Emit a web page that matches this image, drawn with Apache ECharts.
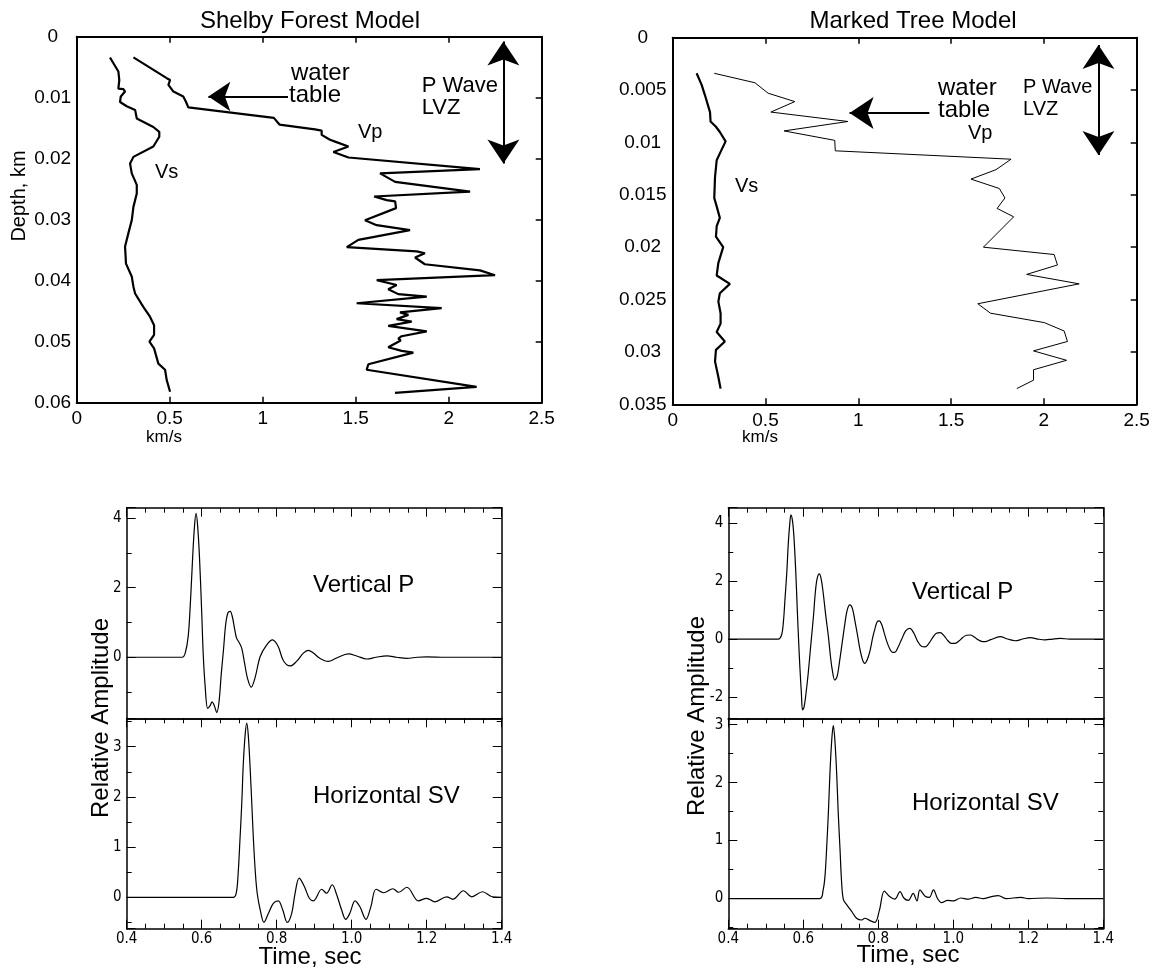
<!DOCTYPE html>
<html><head><meta charset="utf-8">
<script src="https://cdn.jsdelivr.net/npm/echarts@6/dist/echarts.min.js"></script>
<style>html,body{margin:0;padding:0;background:#fff}#c{width:1160px;height:973px}</style>
</head><body><div id="c"></div>
<script>
// ---------- DATA ----------
// Shelby Forest model (depth km, velocity km/s)
const shelbyVsDepth = [0.0034,0.0057,0.0071,0.0085,0.0086,0.0090,0.0098,0.0107,0.0114,0.0120,0.0134,0.0137,0.0148,0.0156,0.0164,0.0180,0.0197,0.0208,0.0224,0.0243,0.0257,0.0279,0.0301,0.0322,0.0344,0.0372,0.0393,0.0410,0.0421,0.0443,0.0459,0.0473,0.0489,0.0500,0.0511,0.0536,0.0546,0.0563,0.0582];
const shelbyVs      = [0.179,0.224,0.229,0.224,0.251,0.260,0.237,0.233,0.269,0.314,0.323,0.341,0.412,0.444,0.444,0.412,0.305,0.287,0.296,0.323,0.323,0.305,0.296,0.278,0.260,0.265,0.296,0.305,0.314,0.358,0.394,0.416,0.416,0.391,0.416,0.439,0.475,0.484,0.502];
const shelbyVpDepth = [0.0034,0.0068,0.0071,0.0079,0.0090,0.0098,0.0107,0.0116,0.0133,0.0144,0.0152,0.0154,0.0161,0.0169,0.0172,0.0180,0.0189,0.0198,0.0217,0.0224,0.0238,0.0254,0.0262,0.0268,0.0270,0.0281,0.0301,0.0309,0.0317,0.0333,0.0345,0.0352,0.0355,0.0362,0.0373,0.0383,0.0391,0.0399,0.0407,0.0414,0.0422,0.0426,0.0437,0.0445,0.0452,0.0456,0.0463,0.0467,0.0474,0.0483,0.0491,0.0495,0.0498,0.0509,0.0515,0.0518,0.0537,0.0546,0.0574,0.0584];
const shelbyVp      = [0.305,0.484,0.502,0.493,0.520,0.573,0.588,0.600,1.060,1.090,1.281,1.317,1.317,1.362,1.389,1.461,1.380,1.461,2.168,1.631,1.712,2.115,1.599,1.667,1.712,1.717,1.550,1.613,1.792,1.514,1.452,1.828,1.872,1.819,1.872,2.168,2.249,1.613,1.720,1.675,1.729,1.882,1.505,1.962,1.738,1.783,1.720,1.801,1.675,1.882,1.747,1.729,1.742,1.675,1.747,1.810,1.568,1.559,2.150,1.711];

// Marked Tree model
const markedVsDepth = [0.0034,0.0045,0.0055,0.0071,0.0080,0.0085,0.0090,0.0099,0.0109,0.0117,0.0133,0.0153,0.0161,0.0172,0.0180,0.0190,0.0200,0.0215,0.0227,0.0235,0.0244,0.0252,0.0263,0.0273,0.0281,0.0290,0.0298,0.0309,0.0324,0.0335];
const markedVs      = [0.129,0.156,0.174,0.201,0.204,0.233,0.254,0.285,0.258,0.237,0.228,0.224,0.237,0.254,0.237,0.233,0.272,0.246,0.237,0.308,0.254,0.246,0.258,0.258,0.237,0.281,0.233,0.228,0.246,0.258];
const markedVpDepth = [0.0034,0.0043,0.0053,0.0061,0.0071,0.0080,0.0089,0.0098,0.0108,0.0116,0.0126,0.0135,0.0144,0.0153,0.0163,0.0171,0.0200,0.0207,0.0217,0.0226,0.0235,0.0254,0.0263,0.0272,0.0280,0.0290,0.0299,0.0308,0.0317,0.0327,0.0335];
const markedVp      = [0.224,0.443,0.514,0.658,0.529,0.944,0.600,0.873,0.876,1.823,1.742,1.607,1.760,1.790,1.748,1.837,1.674,2.055,2.073,1.907,2.190,1.644,1.712,2.002,2.109,2.127,1.944,2.122,1.944,1.944,1.854];

// Synthetic seismograms (time s, relative amplitude)
const shelbyPTime = [0.40,0.50,0.548,0.556,0.564,0.570,0.576,0.581,0.585,0.589,0.594,0.600,0.604,0.609,0.616,0.622,0.628,0.634,0.640,0.646,0.652,0.658,0.664,0.670,0.676,0.682,0.688,0.693,0.700,0.707,0.714,0.722,0.732,0.742,0.756,0.773,0.789,0.804,0.818,0.836,0.853,0.871,0.884,0.898,0.915,0.937,0.960,0.991,1.015,1.040,1.065,1.094,1.120,1.147,1.175,1.200,1.250,1.300,1.400];
const shelbyPAmp  = [0,0,0,0.12,0.6,1.6,2.9,3.8,4.14,3.8,2.9,1.3,0.1,-0.8,-1.47,-1.4,-1.28,-1.4,-1.59,-1.3,-0.5,0.2,0.95,1.28,1.32,1.15,0.8,0.55,0.42,0.25,-0.15,-0.6,-0.86,-0.6,0.02,0.35,0.50,0.31,-0.1,-0.25,-0.12,0.12,0.2,0.12,-0.03,-0.12,-0.02,0.10,0.03,-0.05,0.0,0.04,0.0,-0.03,0.0,0.01,0,0,0];
const shelbySVTime = [0.40,0.684,0.692,0.697,0.702,0.707,0.711,0.716,0.720,0.724,0.729,0.734,0.738,0.743,0.748,0.756,0.766,0.778,0.791,0.804,0.816,0.828,0.840,0.849,0.860,0.874,0.887,0.898,0.920,0.933,0.948,0.960,0.973,0.984,0.995,1.009,1.022,1.038,1.051,1.065,1.085,1.110,1.125,1.147,1.178,1.200,1.222,1.253,1.270,1.298,1.320,1.349,1.375,1.400];
const shelbySVAmp  = [0,0,0.08,0.45,1.14,1.9,2.67,3.25,3.47,3.25,2.6,1.8,1.14,0.5,0.08,-0.25,-0.5,-0.32,-0.12,-0.07,-0.25,-0.5,-0.32,0.08,0.38,0.21,-0.02,-0.07,0.16,0.08,0.25,0.05,-0.25,-0.44,-0.32,-0.07,-0.19,-0.44,-0.19,0.16,0.09,0.17,0.10,0.20,-0.07,-0.02,-0.09,0.01,-0.04,0.13,0.01,0.11,0.01,0];
const markedPTime = [0.40,0.533,0.542,0.547,0.551,0.556,0.560,0.564,0.567,0.571,0.575,0.580,0.584,0.588,0.591,0.595,0.598,0.602,0.607,0.613,0.620,0.627,0.632,0.637,0.643,0.648,0.653,0.660,0.667,0.672,0.677,0.684,0.690,0.696,0.704,0.711,0.717,0.724,0.731,0.738,0.745,0.751,0.758,0.764,0.771,0.778,0.785,0.791,0.797,0.803,0.809,0.815,0.823,0.831,0.838,0.844,0.852,0.862,0.873,0.884,0.895,0.905,0.915,0.925,0.935,0.945,0.955,0.965,0.975,0.985,0.995,1.005,1.015,1.025,1.035,1.045,1.055,1.065,1.075,1.085,1.100,1.125,1.145,1.165,1.185,1.205,1.225,1.245,1.265,1.285,1.310,1.400];
const markedPAmp  = [0,0,0.14,0.6,1.35,2.3,3.31,4.0,4.29,4.1,3.54,2.3,1.0,-0.2,-1.0,-1.9,-2.45,-2.35,-1.9,-1.2,-0.2,0.77,1.6,2.1,2.25,2.05,1.6,0.8,0.08,-0.55,-1.05,-1.42,-1.3,-0.84,-0.1,0.54,1.0,1.18,1.05,0.6,0.1,-0.35,-0.72,-0.84,-0.7,-0.4,0.05,0.35,0.6,0.63,0.5,0.25,-0.1,-0.35,-0.46,-0.46,-0.3,-0.02,0.28,0.37,0.2,-0.08,-0.25,-0.27,-0.15,0.05,0.2,0.22,0.12,-0.05,-0.15,-0.15,-0.07,0.05,0.13,0.14,0.08,-0.02,-0.08,-0.09,-0.02,0.08,0.0,-0.06,0.0,0.05,0.0,-0.03,0,0.02,0,0];
const markedSVTime = [0.40,0.644,0.653,0.658,0.662,0.667,0.671,0.676,0.680,0.684,0.689,0.693,0.698,0.702,0.707,0.716,0.729,0.742,0.756,0.764,0.778,0.791,0.803,0.816,0.831,0.844,0.858,0.868,0.880,0.893,0.903,0.911,0.925,0.936,0.947,0.958,0.969,0.985,1.000,1.020,1.040,1.060,1.080,1.100,1.120,1.140,1.180,1.200,1.250,1.300,1.400];
const markedSVAmp  = [0,0,0.15,0.4,0.84,1.5,2.16,2.75,2.99,2.75,2.16,1.5,0.84,0.3,-0.02,-0.11,-0.22,-0.34,-0.37,-0.34,-0.38,-0.41,-0.2,0.13,0.03,-0.01,0.12,0.01,-0.03,0.09,-0.04,0.15,0.04,0.02,0.15,0.0,-0.07,-0.03,-0.04,0.01,-0.01,0.02,0.0,0.03,0.05,0.0,0.02,0.0,0.01,0.0,0];

// Annotation anchors (data coordinates)
const shelbyWaterTable = {depth:0.0098, from:1.136, to:0.708};
const shelbyLVZ = {vel:2.294, top:0.0008, bottom:0.0208};
const markedWaterTable = {depth:0.0072, from:1.383, to:0.953};
const markedLVZ = {vel:2.294, top:0.0007, bottom:0.0112};

// Axis extents
const shelbyDepthMax = 0.06, markedDepthMax = 0.035;
const ampRanges = {shelbyP:[-1.755,4.3], shelbySV:[-0.626,3.566], markedP:[-2.74,4.54], markedSV:[-0.52,3.11]};

// ---------- CHART ----------
const FONT = '"Liberation Sans", Arial, Helvetica, sans-serif';
const NARROW = '"Liberation Sans Narrow", "DejaVu Sans Condensed", "Liberation Sans", sans-serif';
const K = '#000';
const zip = (a, b) => a.map((v, i) => [v, b[i]]).filter(p => p[1] !== undefined);

const grids = [
  {left:76.7, top:36.7, width:465, height:366},
  {left:672.7, top:37.7, width:464, height:366.6},
  {left:126.7, top:507.7, width:375, height:210.6},
  {left:126.7, top:718.3, width:375, height:210.4},
  {left:728.3, top:507.7, width:375, height:210.6},
  {left:728.3, top:718.3, width:375, height:210.4}
];

function velAxis(g, pos, labels) {
  return {type:'value', gridIndex:g, position:pos, min:0, max:2.5, interval:0.5,
    axisLine:{show:true, onZero:false, lineStyle:{color:K, width:2}},
    axisTick:{show:true, inside:true, length:6, lineStyle:{color:K, width:1.5}},
    axisLabel:{show:labels, color:K, fontSize:19, fontFamily:FONT, margin:7},
    splitLine:{show:false}};
}
function depthAxis(g, pos, max, interval, labels, margin, ticks) {
  return {type:'value', gridIndex:g, position:pos, inverse:true, min:0, max:max, interval:interval,
    axisLine:{show:true, onZero:false, lineStyle:{color:K, width:2}},
    axisTick:{show:ticks, inside:true, length:6, lineStyle:{color:K, width:1.5}},
    axisLabel:{show:labels, color:K, fontSize:19, fontFamily:FONT, align:'center', margin:margin},
    splitLine:{show:false}};
}
function timeAxis(g, pos, labels, ticks) {
  return {type:'value', gridIndex:g, position:pos, min:0.4, max:1.4, interval:0.2,
    axisLine:{show:true, onZero:false, lineStyle:{color:K, width:1.5}},
    axisTick:{show:ticks, inside:true, length:9, lineStyle:{color:K, width:1}},
    minorTick:{show:ticks, splitNumber:4, length:5, lineStyle:{color:K, width:1}},
    axisLabel:{show:labels, color:K, fontSize:15, fontFamily:NARROW, margin:3, formatter:v => v.toFixed(1)},
    splitLine:{show:false}, minorSplitLine:{show:false}};
}
function ampAxis(g, pos, range, split, labels) {
  return {type:'value', gridIndex:g, position:pos, min:range[0], max:range[1], splitNumber:split,
    axisLine:{show:true, onZero:false, lineStyle:{color:K, width:1.5}},
    axisTick:{show:true, inside:true, length:9, lineStyle:{color:K, width:1}},
    minorTick:{show:true, splitNumber:2, length:5, lineStyle:{color:K, width:1}},
    axisLabel:{show:labels, color:K, fontSize:15, fontFamily:NARROW, margin:5, showMinLabel:false, showMaxLabel:false,
      formatter:v => String(Math.round(v))},
    splitLine:{show:false}, minorSplitLine:{show:false}};
}

const xAxis = [
  velAxis(0,'bottom',true), velAxis(0,'top',false),
  velAxis(1,'bottom',true), velAxis(1,'top',false),
  timeAxis(2,'bottom',false,false), timeAxis(2,'top',false,true),
  timeAxis(3,'bottom',true,true), timeAxis(3,'top',false,true),
  timeAxis(4,'bottom',false,false), timeAxis(4,'top',false,true),
  timeAxis(5,'bottom',true,true), timeAxis(5,'top',false,true)
];
const yAxis = [
  depthAxis(0,'left',shelbyDepthMax,0.01,true,24,false), depthAxis(0,'right',shelbyDepthMax,0.01,false,0,true),
  depthAxis(1,'left',markedDepthMax,0.005,true,30,false), depthAxis(1,'right',markedDepthMax,0.005,false,0,true),
  ampAxis(2,'left',ampRanges.shelbyP,3,true), ampAxis(2,'right',ampRanges.shelbyP,3,false),
  ampAxis(3,'left',ampRanges.shelbySV,4,true), ampAxis(3,'right',ampRanges.shelbySV,4,false),
  ampAxis(4,'left',ampRanges.markedP,4,true), ampAxis(4,'right',ampRanges.markedP,4,false),
  ampAxis(5,'left',ampRanges.markedSV,4,true), ampAxis(5,'right',ampRanges.markedSV,4,false)
];

function profile(g, vel, depth, width, mark) {
  const s = {type:'line', xAxisIndex:2*g, yAxisIndex:2*g, data:zip(vel, depth), symbol:'none', showSymbol:false,
    smooth:false, lineStyle:{color:K, width:width}, silent:true, animation:false, z:3};
  if (mark) s.markLine = mark;
  return s;
}
function trace(g, time, amp) {
  return {type:'line', xAxisIndex:2*g, yAxisIndex:2*g, data:zip(time, amp), symbol:'none', showSymbol:false,
    smooth:0.35, lineStyle:{color:K, width:1.2}, silent:true, animation:false, z:3};
}
function arrows(wt, lvz, wtSize, lvzSize) {
  return {silent:true, animation:false, label:{show:false}, emphasis:{disabled:true},
    lineStyle:{color:K, width:2, type:'solid'}, symbol:['none','arrow'],
    data:[
      [{coord:[wt.from, wt.depth], symbol:'none', symbolSize:1}, {coord:[wt.to, wt.depth], symbol:'arrow', symbolSize:wtSize}],
      [{coord:[lvz.vel, lvz.top], symbol:'arrow', symbolSize:lvzSize}, {coord:[lvz.vel, lvz.bottom], symbol:'arrow', symbolSize:lvzSize}]
    ]};
}

const series = [
  profile(0, shelbyVs, shelbyVsDepth, 2.2),
  profile(0, shelbyVp, shelbyVpDepth, 2.2, arrows(shelbyWaterTable, shelbyLVZ, 22, 24)),
  profile(1, markedVs, markedVsDepth, 2.2),
  profile(1, markedVp, markedVpDepth, 1, arrows(markedWaterTable, markedLVZ, 24, 24)),
  trace(2, shelbyPTime, shelbyPAmp),
  trace(3, shelbySVTime, shelbySVAmp),
  trace(4, markedPTime, markedPAmp),
  trace(5, markedSVTime, markedSVAmp)
];

function txt(text, x, y, size, align, rot) {
  return {type:'text', x:x, y:y, rotation:rot || 0, silent:true,
    style:{text:text, fill:K, font:size + 'px ' + FONT, textAlign:align || 'left', textVerticalAlign:'middle'}};
}
const graphic = [
  txt('Shelby Forest Model', 310, 21.6, 24, 'center'),
  txt('Marked Tree Model', 913, 21.6, 24, 'center'),
  txt('Depth, km', 19, 196, 20, 'center', Math.PI/2),
  txt('km/s', 164, 437, 17, 'center'),
  txt('km/s', 760, 437, 17, 'center'),
  txt('water', 291, 73.3, 24), txt('table', 289, 95, 24),
  txt('P Wave', 421.7, 85.6, 22), txt('LVZ', 421.7, 108.3, 22),
  txt('Vp', 358, 132.3, 20), txt('Vs', 155, 172.3, 20),
  txt('water', 938, 88.3, 24), txt('table', 938, 110, 24),
  txt('P Wave', 1023, 87.3, 20), txt('LVZ', 1023, 109, 20),
  txt('Vp', 968, 133, 20), txt('Vs', 735, 186.3, 20),
  txt('Vertical P', 313, 585.6, 24), txt('Horizontal SV', 313, 796.6, 24),
  txt('Vertical P', 912, 592.3, 24), txt('Horizontal SV', 912, 803.3, 24),
  txt('Relative Amplitude', 101, 718, 24, 'center', Math.PI/2),
  txt('Relative Amplitude', 697, 716, 24, 'center', Math.PI/2),
  txt('Time, sec', 310, 957, 24, 'center'),
  txt('Time, sec', 908, 955, 24, 'center')
];

const chart = echarts.init(document.getElementById('c'), null, {renderer:'canvas'});
chart.setOption({animation:false, backgroundColor:'#fff', grid:grids, xAxis:xAxis, yAxis:yAxis, series:series, graphic:graphic});
</script></body></html>
